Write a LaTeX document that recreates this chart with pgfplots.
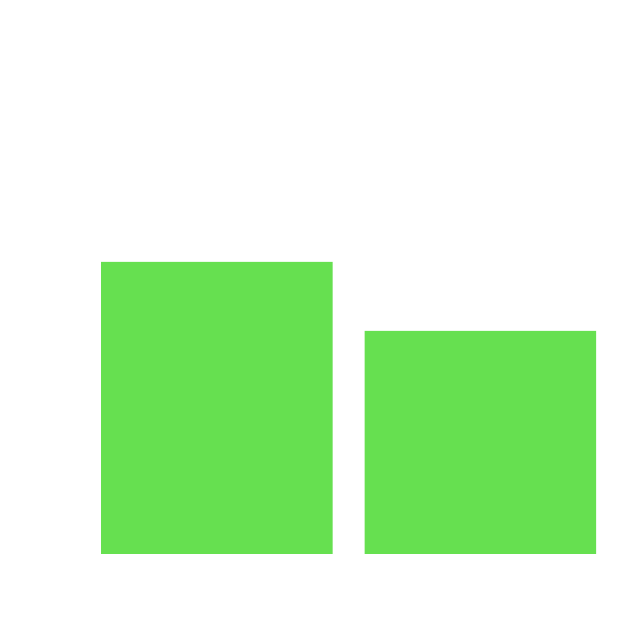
\documentclass[border=0pt]{standalone}
\usepackage{pgfplots}
\pgfplotsset{compat=1.18}
\definecolor{barGreen}{HTML}{66E050}
\begin{document}
\begin{tikzpicture}[x=1bp,y=1bp]
  \path[use as bounding box, fill=white] (0,0) rectangle (640,640);
  \begin{axis}[
    at={(101bp,86bp)}, anchor=south west,
    scale only axis,
    width=495bp, height=292bp,
    hide axis,
    ybar, bar width=231.5bp,
    xmin=101, xmax=596,
    ymin=0, ymax=292,
    clip=false,
  ]
    % bar heights (relative units)
    \addplot[fill=barGreen, draw=none] coordinates {
      (216.75, 292)
      (480.25, 223)
    };
  \end{axis}
\end{tikzpicture}
\end{document}
